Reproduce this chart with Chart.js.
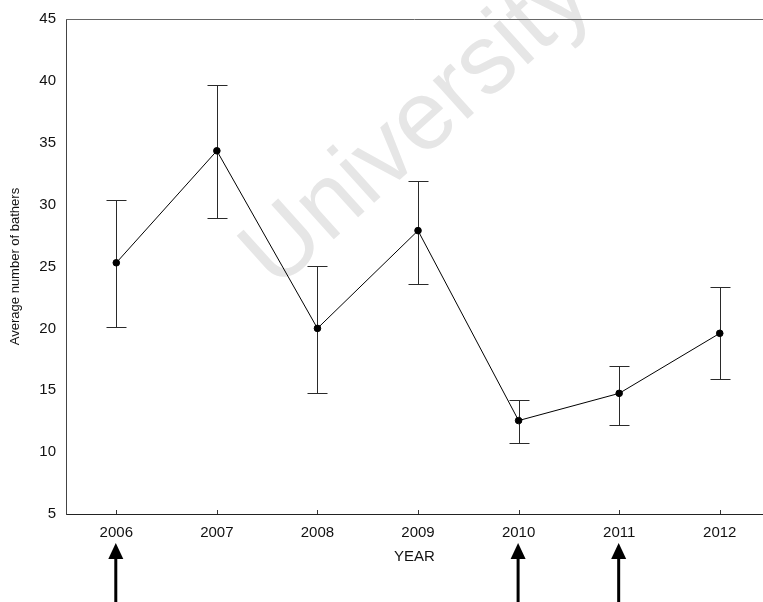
<!DOCTYPE html>
<html>
<head>
<meta charset="utf-8">
<script src="https://cdn.jsdelivr.net/npm/chart.js@4"></script>
<style>
  body { margin: 0; background: #fff; }
  #wrap { width: 763px; height: 602px; }
</style>
</head>
<body>
<div id="wrap"><canvas id="myChart" width="763" height="602"></canvas></div>
<script>
var years = [2006, 2007, 2008, 2009, 2010, 2011, 2012]
var means = [25.3, 34.35, 20.0, 27.9, 12.55, 14.75, 19.6]
var errHigh = [30.4, 39.7, 25.05, 31.9, 14.2, 17.0, 23.35]
var errLow = [20.15, 28.95, 14.8, 23.55, 10.7, 12.2, 15.9]
var yTicks = [5, 10, 15, 20, 25, 30, 35, 40, 45]
var arrowYears = [2006, 2010, 2011]

var fontName = '"Liberation Sans", Arial, sans-serif'

var extras = {
    id: 'extras',
    beforeDatasetsDraw: function (chart) {
        var c = chart.ctx, a = chart.chartArea
        var x = chart.scales.x, y = chart.scales.y
        // watermark
        c.save()
        c.translate(418, 127)
        c.rotate(-42 * Math.PI / 180)
        c.fillStyle = '#e6e6e6'
        c.font = '98px ' + fontName
        c.textAlign = 'center'
        c.textBaseline = 'middle'
        c.fillText('University', 0, 0)
        c.restore()
        // top border
        c.save()
        c.strokeStyle = '#666'
        c.lineWidth = 1
        c.beginPath()
        c.moveTo(a.left, a.top + 0.5)
        c.lineTo(chart.width, a.top + 0.5)
        c.stroke()
        // inward x ticks
        c.strokeStyle = '#333'
        years.forEach(function (yr) {
            var px = Math.round(x.getPixelForValue(yr)) + 0.5
            c.beginPath()
            c.moveTo(px, a.bottom)
            c.lineTo(px, a.bottom - 4)
            c.stroke()
        })
        // error bars
        c.strokeStyle = '#2a2a2a'
        c.lineWidth = 1
        years.forEach(function (yr, i) {
            var px = Math.round(x.getPixelForValue(yr)) + 0.5
            var hi = Math.round(y.getPixelForValue(errHigh[i])) + 0.5
            var lo = Math.round(y.getPixelForValue(errLow[i])) + 0.5
            c.beginPath()
            c.moveTo(px, hi); c.lineTo(px, lo)
            c.moveTo(px - 10, hi); c.lineTo(px + 10, hi)
            c.moveTo(px - 10, lo); c.lineTo(px + 10, lo)
            c.stroke()
        })
        c.restore()
    },
    afterDraw: function (chart) {
        var c = chart.ctx
        var x = chart.scales.x
        c.save()
        c.fillStyle = '#000'
        c.strokeStyle = '#000'
        arrowYears.forEach(function (yr) {
            var px = x.getPixelForValue(yr) - 0.5
            c.beginPath()
            c.moveTo(px, 543)
            c.lineTo(px - 7.5, 559)
            c.lineTo(px + 7.5, 559)
            c.closePath()
            c.fill()
            c.lineWidth = 3
            c.beginPath()
            c.moveTo(px, 556)
            c.lineTo(px, 602)
            c.stroke()
        })
        c.restore()
    }
}

var ctx = document.getElementById('myChart').getContext('2d')
var myChart = new Chart(ctx, {
    type: 'line',
    data: {
        datasets: [{
            label: 'Average number of bathers',
            data: years.map(function (yr, i) { return { x: yr, y: means[i] } }),
            borderColor: '#000',
            backgroundColor: '#000',
            borderWidth: 1,
            pointRadius: 3.3,
            pointBackgroundColor: '#000',
            tension: 0
        }]
    },
    options: {
        responsive: false,
        animation: false,
        layout: { autoPadding: false, padding: { top: 17, right: 0, bottom: 33, left: 0 } },
        plugins: {
            legend: { display: false },
            tooltip: { enabled: false }
        },
        scales: {
            x: {
                type: 'linear',
                min: 2005.5,
                max: 2012.43,
                afterBuildTicks: function (axis) {
                    axis.ticks = years.map(function (v) { return { value: v } })
                },
                afterFit: function (axis) { axis.height = 55 },
                grid: { display: false, drawTicks: false },
                border: { display: true, color: '#222', width: 1 },
                ticks: {
                    color: '#111',
                    padding: 10,
                    font: { family: fontName, size: 15 },
                    callback: function (v) { return String(v) }
                },
                title: {
                    display: true,
                    text: 'YEAR',
                    color: '#111',
                    padding: { top: 0, bottom: 3 },
                    font: { family: fontName, size: 15 }
                }
            },
            y: {
                min: 5,
                max: 45,
                afterBuildTicks: function (axis) {
                    axis.ticks = yTicks.map(function (v) { return { value: v } })
                },
                afterFit: function (axis) { axis.width = 66 },
                grid: { display: false, drawTicks: false },
                border: { display: true, color: '#444', width: 1 },
                ticks: {
                    color: '#111',
                    padding: 10,
                    font: { family: fontName, size: 15 }
                },
                title: {
                    display: true,
                    text: 'Average number of bathers',
                    color: '#111',
                    padding: { top: 8, bottom: 0 },
                    font: { family: fontName, size: 13 }
                }
            }
        }
    },
    plugins: [extras]
})
</script>
</body>
</html>
